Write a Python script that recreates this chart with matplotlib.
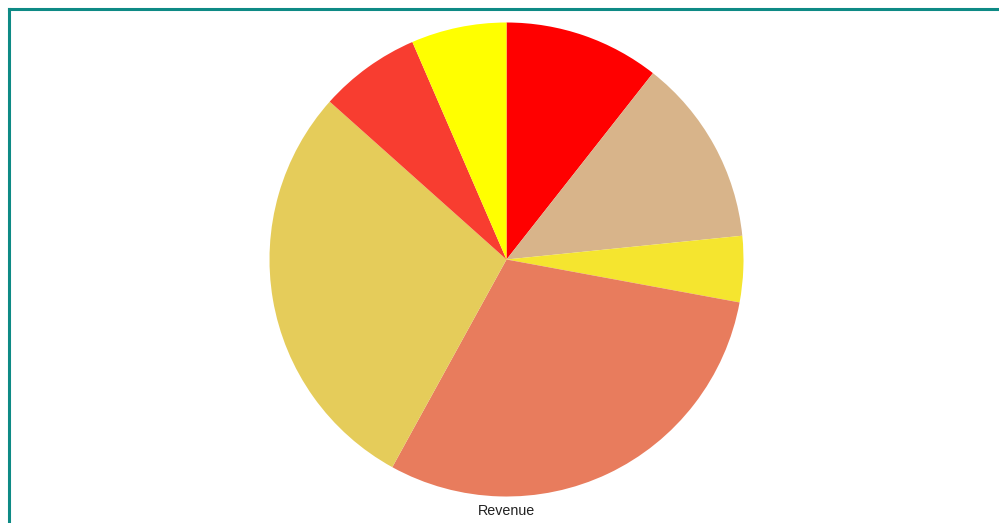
import matplotlib.pyplot as plt
from matplotlib.lines import Line2D

# slice shares, clockwise from 12 o'clock
shares = [10.6, 12.8, 4.5, 30.1, 28.6, 6.9, 6.5]
colors = ["#FF0000", "#D8B48A", "#F5E52F", "#E87C5D", "#E5CC5A", "#F83D30", "#FFFF00"]
label = "Revenue"

W, H = 999, 523
fig = plt.figure(figsize=(W / 100, H / 100), dpi=100)
fig.patch.set_facecolor("white")

# teal frame on top and left edges
fig.add_artist(Line2D([9 / W, 1], [1 - 9 / H, 1 - 9 / H], color="#0E8A85", linewidth=2.2))
fig.add_artist(Line2D([9 / W, 9 / W], [0, 1 - 9 / H], color="#0E8A85", linewidth=2.2))

r = 237
cx, cy = 506.5, H - 259.5
ax = fig.add_axes([(cx - r) / W, (cy - r) / H, 2 * r / W, 2 * r / H])
ax.pie(shares, colors=colors, startangle=90, counterclock=False,
       wedgeprops=dict(linewidth=0), radius=1.0)
ax.set_xlim(-1, 1)
ax.set_ylim(-1, 1)
ax.set_aspect("equal")
ax.axis("off")

fig.text(cx / W, 1 - 511 / H, label, ha="center", va="center",
         fontsize=10.3, family="Liberation Sans", color="#222222")

fig.savefig("out.png", dpi=100)
